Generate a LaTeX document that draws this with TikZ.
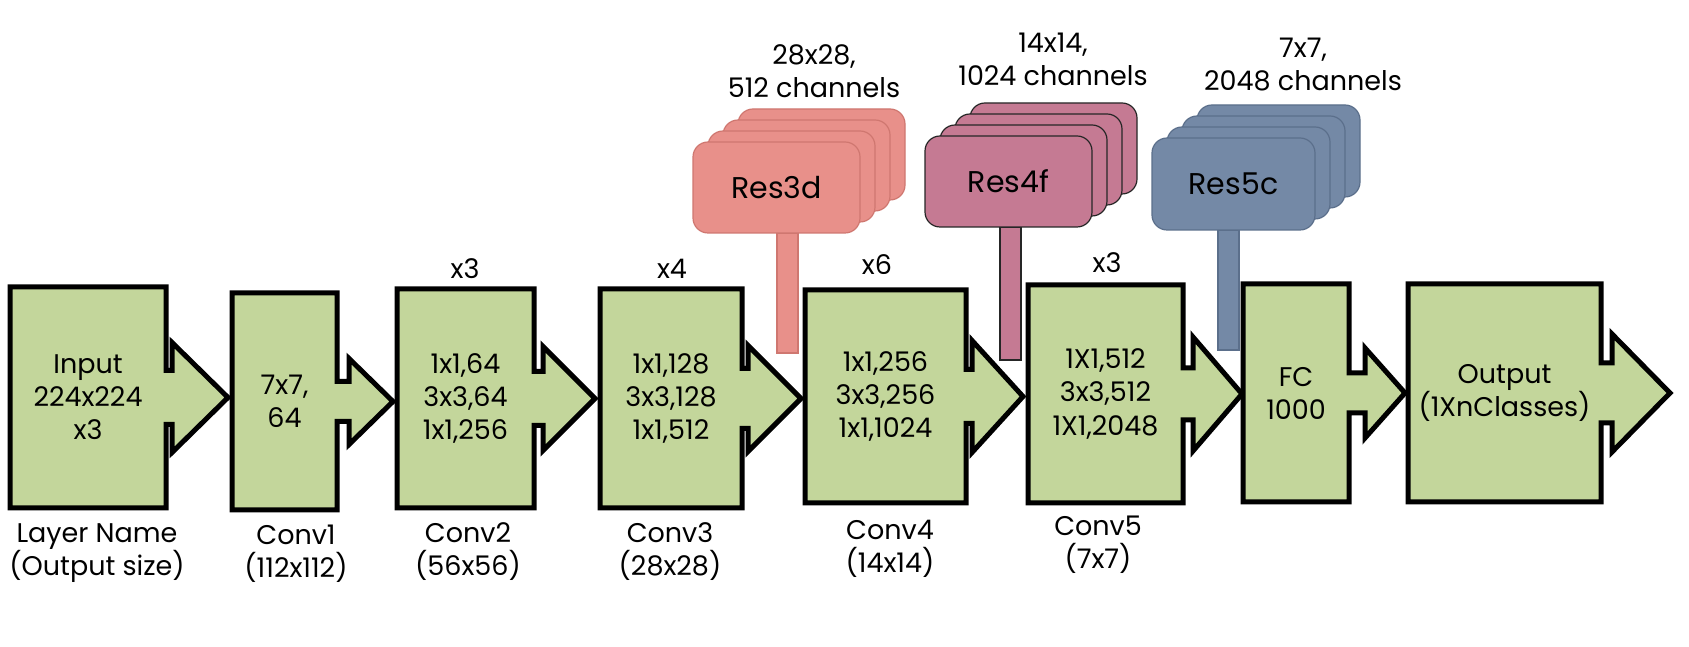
\documentclass[tikz,border=0pt]{standalone}
\usepackage{fontspec}
\setmainfont{Poppins}
\definecolor{rnblock}{HTML}{C3D69B}
\definecolor{rnresA}{HTML}{E8908A}
\definecolor{rnresAline}{HTML}{CF7770}
\definecolor{rnresB}{HTML}{C57A93}
\definecolor{rnresC}{HTML}{7489A6}
\definecolor{rnresCline}{HTML}{5B6F8B}
\usetikzlibrary{positioning, calc, backgrounds}

% body node, notch, stem half height, head half height, head length
\newcommand{\blockarrow}[5]{%
  \begin{pgfonlayer}{background}
  \draw[blockline] (#1.north west) -- (#1.north east)
    -- ([yshift=#3pt]#1.east) -- ++(#2,0) -- ++(0,{#4-#3})
    -- ([xshift={#2pt+#5pt}]#1.east)
    -- ([xshift=#2pt, yshift=-#4pt]#1.east) -- ++(0,{#4-#3})
    -- ([yshift=-#3pt]#1.east) -- (#1.south east) -- (#1.south west) -- cycle;
  \end{pgfonlayer}}

\begin{document}
\begin{tikzpicture}[x=1pt, y=1pt,
    every node/.style={font=\fontsize{27}{33}\selectfont, align=center, inner sep=0pt, outer sep=0pt},
    blockline/.style={draw=black, line width=5pt, fill=rnblock},
    resbox/.style={rounded corners=15pt, minimum width=167pt, minimum height=91pt, line width=1.2pt, font=\fontsize{30}{36}\selectfont},
    res3dbox/.style={resbox, fill=rnresA, draw=rnresAline},
    res4fbox/.style={resbox, fill=rnresB, draw=black!85},
    res5cbox/.style={resbox, minimum width=163pt, minimum height=92pt, fill=rnresC, draw=rnresCline},
    resstem/.style={minimum width=21pt, line width=1.2pt}]
  \useasboundingbox (0,0) rectangle (1689,647);

  % main blocks
  \node[minimum width=156pt, minimum height=221pt] (input) at (88,249.5) {Input\\224x224\\x3};
  \node[minimum width=105pt, minimum height=217pt] (conv1) at (284.5,245.5) {7x7,\\64};
  \node[minimum width=137pt, minimum height=219pt] (conv2) at (465.5,248.5) {1x1,64\\3x3,64\\1x1,256};
  \node[minimum width=142pt, minimum height=219pt] (conv3) at (671,248.5) {1x1,128\\3x3,128\\1x1,512};
  \node[minimum width=161pt, minimum height=213pt] (conv4) at (885.5,250.5) {1x1,256\\3x3,256\\1x1,1024};
  \node[minimum width=155pt, minimum height=218pt] (conv5) at (1105.5,253) {1X1,512\\3x3,512\\1X1,2048};
  \node[minimum width=106pt, minimum height=218pt] (fc) at (1296,254) {FC\\1000};
  \node[minimum width=193pt, minimum height=218pt] (output) at (1504.5,254) {Output\\(1XnClasses)};

  \blockarrow{input}{6}{27}{55}{56}
  \blockarrow{conv1}{12}{20}{43}{44}
  \blockarrow{conv2}{9}{27}{52}{52}
  \blockarrow{conv3}{6}{30}{53}{53}
  \blockarrow{conv4}{6}{27}{56}{51}
  \blockarrow{conv5}{10}{26}{57}{49}
  \blockarrow{fc}{16}{20}{45}{40}
  \blockarrow{output}{11}{30}{59}{58}

  % repeat counts
  \node (rep2) at (465,378) {x3};
  \node (rep3) at (672,378) {x4};
  \node (rep4) at (877,382) {x6};
  \node (rep5) at (1107,384) {x3};

  % layer names
  \node (lname) at (97,93.5) {Layer Name\\(Output size)};
  \node (lconv1) at (296,93.5) {Conv1\\(112x112)};
  \node (lconv2) at (468,95.5) {Conv2\\(56x56)};
  \node (lconv3) at (670,95.5) {Conv3\\(28x28)};
  \node (lconv4) at (890,98.5) {Conv4\\(14x14)};
  \node (lconv5) at (1098,102) {Conv5\\(7x7)};

  % feature maps
  \node[res3dbox] (res3d) at (776.5,459.5) {Res3d};
  \node[res4fbox] (res4f) at (1008.5,465.5) {Res4f};
  \node[res5cbox] (res5c) at (1233.5,463) {Res5c};
  \begin{pgfonlayer}{background}
    \foreach \k in {3,2,1} {
      \node[res3dbox] at ($(res3d)+(15*\k,11*\k)$) {};
      \node[res4fbox] at ($(res4f)+(15*\k,11*\k)$) {};
      \node[res5cbox] at ($(res5c)+(15*\k,11*\k)$) {};
    }
    \node[resstem, fill=rnresA, draw=rnresAline, minimum height=120pt, below=0pt of res3d, xshift=11pt] (stem3d) {};
    \node[resstem, fill=rnresB, draw=black!85, minimum height=133pt, below=0pt of res4f, xshift=2pt] (stem4f) {};
    \node[resstem, fill=rnresC, draw=rnresCline, minimum height=120pt, below=0pt of res5c, xshift=-5pt] (stem5c) {};
  \end{pgfonlayer}

  \node (map3d) at (814,575.5) {28x28,\\512 channels};
  \node (map4f) at (1053,588) {14x14,\\1024 channels};
  \node (map5c) at (1303,582.5) {7x7,\\2048 channels};
\end{tikzpicture}
\end{document}
